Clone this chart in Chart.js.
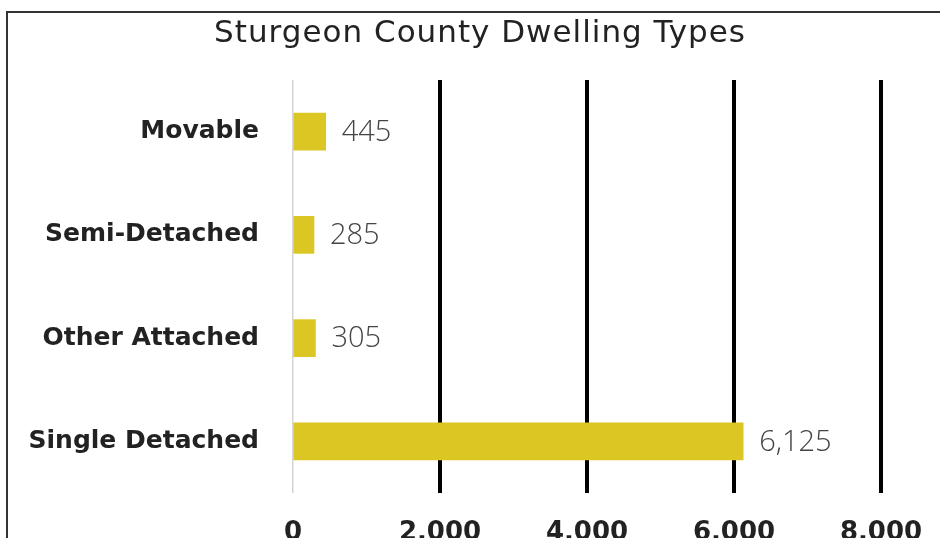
<!DOCTYPE html>
<html>
<head>
<meta charset="utf-8">
<script src="https://cdn.jsdelivr.net/npm/chart.js@4/dist/chart.umd.min.js"></script>
<style>
  html, body { margin: 0; padding: 0; background: #fff; overflow: hidden; width: 940px; height: 538px; }
  #frame {
    position: absolute; left: 6px; top: 11px;
    width: 960px; height: 580px;
    border-top: 2px solid #333; border-left: 2px solid #333;
  }
  #chart { position: absolute; left: 0; top: 0; }
</style>
</head>
<body>
<div id="frame"><canvas id="chart" width="950" height="570"></canvas></div>
<script>
"use strict";

/* ─── DATA ─── */
const categories = ["Movable", "Semi-Detached", "Other Attached", "Single Detached"];
const dwellings = [445, 285, 305, 6125];
const xTicks = [0, 2000, 4000, 6000, 8000];
const chartTitle = "Sturgeon County Dwelling Types";

/* ─── STYLE ─── */
const FONT = "'DejaVu Sans', sans-serif";
const LIGHT = "'Open Sans', sans-serif";
const BAR = "#DBC623";
const TEXT = "#222";

// title centred on the framed box, not on the plot
const titlePlugin = {
  id: "titlePlugin",
  afterDraw(chart) {
    const { ctx } = chart;
    ctx.save();
    ctx.font = "31px " + FONT;
    ctx.letterSpacing = "1px";
    ctx.fillStyle = TEXT;
    ctx.textAlign = "center";
    ctx.textBaseline = "middle";
    ctx.fillText(chartTitle, 472, 21);
    ctx.restore();
  }
};

// value labels right of each bar
const valueLabels = {
  id: "valueLabels",
  afterDatasetsDraw(chart) {
    const { ctx } = chart;
    const meta = chart.getDatasetMeta(0);
    ctx.save();
    ctx.font = "300 29px " + LIGHT;
    ctx.fillStyle = "#444";
    ctx.textAlign = "left";
    ctx.textBaseline = "middle";
    meta.data.forEach((bar, i) => {
      ctx.fillText(dwellings[i].toLocaleString("en-US"), bar.x + 16, bar.y + 1);
    });
    ctx.restore();
  }
};

new Chart(document.getElementById("chart"), {
  type: "bar",
  data: {
    labels: categories,
    datasets: [{
      data: dwellings,
      backgroundColor: BAR,
      barThickness: 37,
    }]
  },
  options: {
    indexAxis: "y",
    responsive: false,
    animation: false,
    layout: { padding: { top: 67, right: 77, left: 0, bottom: 0 } },
    plugins: {
      legend: { display: false },
      tooltip: { enabled: false },
      title: { display: false },
    },
    scales: {
      x: {
        min: 0, max: 8000,
        afterBuildTicks: s => { s.ticks = xTicks.map(v => ({ value: v })); },
        border: { display: false },
        grid: {
          drawTicks: false,
          color: c => c.tick && c.tick.value === 0 ? "#d4d4d4" : "#000",
          lineWidth: c => c.tick && c.tick.value === 0 ? 1.5 : 4,
        },
        ticks: {
          color: TEXT, padding: 25,
          font: { family: FONT, size: 26, weight: "600" },
          callback: v => v.toLocaleString("en-US"),
        },
        afterFit: s => { s.height = 90; },
      },
      y: {
        border: { display: false },
        grid: { display: false },
        ticks: {
          color: TEXT, padding: 26,
          font: { family: FONT, size: 25, weight: "600" },
        },
        afterFit: s => { s.width = 285; },
      },
    },
  },
  plugins: [valueLabels, titlePlugin],
});
</script>
</body>
</html>
